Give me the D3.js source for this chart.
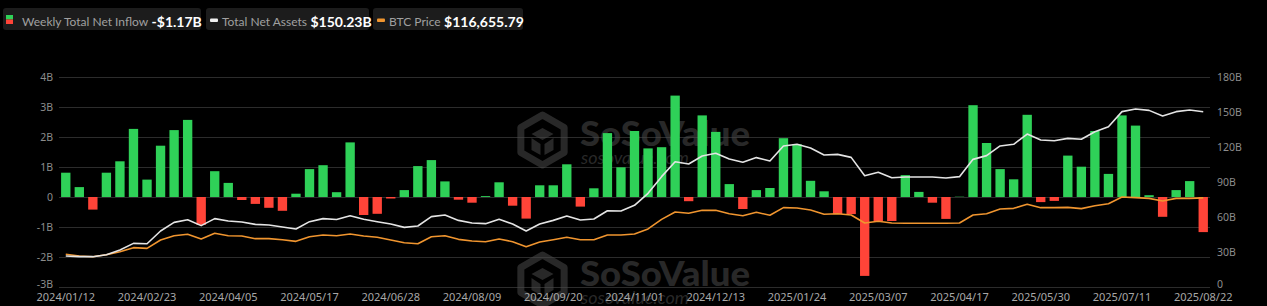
<!DOCTYPE html>
<html>
<head>
<meta charset="utf-8">
<script src="https://cdn.jsdelivr.net/npm/d3@7"></script>
<style>
  html, body { margin: 0; padding: 0; background: #000; }
  svg { display: block; }
</style>
</head>
<body>
<svg id="chart" width="1267" height="306"></svg>
<script>
const categories = [
  "2024/01/12","2024/01/19","2024/01/26","2024/02/02","2024/02/09","2024/02/16","2024/02/23","2024/03/01","2024/03/08","2024/03/15",
  "2024/03/22","2024/03/28","2024/04/05","2024/04/12","2024/04/19","2024/04/26","2024/05/03","2024/05/10","2024/05/17","2024/05/24",
  "2024/05/31","2024/06/07","2024/06/14","2024/06/21","2024/06/28","2024/07/05","2024/07/12","2024/07/19","2024/07/26","2024/08/02",
  "2024/08/09","2024/08/16","2024/08/23","2024/08/30","2024/09/06","2024/09/13","2024/09/20","2024/09/27","2024/10/04","2024/10/11",
  "2024/10/18","2024/10/25","2024/11/01","2024/11/08","2024/11/15","2024/11/22","2024/11/29","2024/12/06","2024/12/13","2024/12/20",
  "2024/12/27","2025/01/03","2025/01/10","2025/01/17","2025/01/24","2025/01/31","2025/02/07","2025/02/14","2025/02/21","2025/02/28",
  "2025/03/07","2025/03/14","2025/03/21","2025/03/28","2025/04/04","2025/04/11","2025/04/17","2025/04/25","2025/05/02","2025/05/09",
  "2025/05/16","2025/05/23","2025/05/30","2025/06/06","2025/06/13","2025/06/20","2025/06/27","2025/07/03","2025/07/11","2025/07/18",
  "2025/07/25","2025/08/01","2025/08/08","2025/08/15","2025/08/22"
];

// Weekly total net inflow, billions USD
const netInflow = [
  0.81, 0.33, -0.42, 0.81, 1.19, 2.27, 0.58, 1.71, 2.23, 2.57,
  -0.93, 0.86, 0.47, -0.10, -0.23, -0.36, -0.46, 0.11, 0.93, 1.06,
  0.16, 1.82, -0.60, -0.56, -0.05, 0.23, 1.03, 1.23, 0.52, -0.09,
  -0.19, 0.03, 0.49, -0.29, -0.72, 0.39, 0.39, 1.09, -0.32, 0.29,
  2.13, 0.99, 2.20, 1.62, 1.66, 3.38, -0.14, 2.72, 2.17, 0.43,
  -0.40, 0.23, 0.30, 1.96, 1.76, 0.54, 0.19, -0.57, -0.57, -2.63,
  -0.80, -0.80, 0.73, 0.17, -0.19, -0.73, 0.01, 3.06, 1.80, 0.93,
  0.59, 2.74, -0.17, -0.13, 1.38, 1.01, 2.20, 0.77, 2.72, 2.38,
  0.06, -0.66, 0.23, 0.53, -1.17
];

// Total net assets, billions USD
const totalNetAssets = [
  26.6, 26.0, 26.0, 27.7, 31.7, 37.4, 37.1, 48.0, 55.4, 57.7,
  52.6, 58.6, 56.6, 55.7, 53.7, 53.1, 51.4, 49.7, 56.0, 58.6,
  57.8, 61.1, 58.0, 56.0, 54.0, 51.1, 52.3, 60.3, 61.7, 57.1,
  54.9, 54.3, 58.0, 54.0, 48.0, 54.0, 57.1, 60.9, 57.4, 58.3,
  65.4, 65.1, 70.0, 80.3, 94.6, 107.4, 105.4, 112.3, 114.6, 109.7,
  106.9, 110.9, 108.0, 120.9, 122.3, 119.1, 113.1, 113.7, 111.1, 95.4,
  98.3, 93.7, 94.3, 94.3, 94.3, 93.4, 94.6, 109.4, 112.6, 120.9,
  122.3, 131.1, 126.0, 125.4, 127.4, 126.6, 133.1, 137.4, 150.3, 152.6,
  151.4, 146.6, 150.3, 151.7, 150.23
];

// BTC price, USD
const btcPrice = [
  42800, 40600, 39700, 42300, 46200, 51500, 50600, 61500, 67200, 69000,
  62900, 70300, 67200, 66800, 63300, 63300, 61900, 59800, 65900, 68100,
  67200, 69400, 66800, 65100, 61500, 58000, 56700, 65900, 67200, 62400,
  60200, 59300, 62900, 59300, 52800, 58900, 61900, 65100, 61900, 61900,
  68100, 68100, 69400, 76000, 88600, 98200, 96500, 100400, 100400, 96000,
  93400, 97800, 93900, 103900, 103500, 100800, 95200, 96000, 94300, 83800,
  86000, 83800, 83400, 83400, 83400, 83400, 83800, 94300, 96000, 102100,
  103000, 108300, 103900, 103900, 104300, 102600, 106500, 109100, 117900, 117000,
  116100, 112600, 116100, 116100, 116655.79
];

const leftTicks = [-3, -2, -1, 0, 1, 2, 3, 4];
const leftTickLabels = ["-3B", "-2B", "-1B", "0", "1B", "2B", "3B", "4B"];
const rightTicks = [0, 30, 60, 90, 120, 150, 180];
const rightTickLabels = ["0", "30B", "60B", "90B", "120B", "150B", "180B"];
const xTickLabels = ["2024/01/12","2024/02/23","2024/04/05","2024/05/17","2024/06/28","2024/08/09","2024/09/20",
  "2024/11/01","2024/12/13","2025/01/24","2025/03/07","2025/04/17","2025/05/30","2025/07/11","2025/08/22"];

const legendItems = [
  { name: "Weekly Total Net Inflow", value: "-$1.17B" },
  { name: "Total Net Assets", value: "$150.23B" },
  { name: "BTC Price", value: "$116,655.79" }
];

const GREEN = "#2fd158", RED = "#ff4438", WHITE = "#e4e4e4", ORANGE = "#f0952f";

const svg = d3.select("#chart");
svg.append("rect").attr("width", 1267).attr("height", 306).attr("fill", "#000");

const x = d3.scaleBand().domain(categories).range([59, 1210]).paddingInner(0.31).paddingOuter(0.155);
const yL = d3.scaleLinear().domain([-3, 4]).range([287, 77]);
const yR = d3.scaleLinear().domain([0, 180]).range([287, 77]);
const yP = d3.scaleLinear().domain([0, 275000]).range([287, 77]);
const cx = d => x(d) + x.bandwidth() / 2;

// gridlines
const grid = d3.axisLeft(yL).tickValues(leftTicks).tickSize(-(1210 - 59)).tickFormat("");
const gG = svg.append("g").attr("transform", "translate(59,0)").call(grid);
gG.select(".domain").remove();
gG.selectAll(".tick line").attr("stroke", "#2c2c2c").attr("stroke-width", 1);

// watermarks
function watermark(dy) {
  const g = svg.append("g").attr("transform", `translate(0,${dy})`).attr("opacity", 0.55);
  const hx = 542.5, hy = 140, r = 25;
  const hex = d3.range(6).map(i => {
    const a = Math.PI / 3 * i - Math.PI / 2;
    return [hx + r * Math.cos(a), hy + r * Math.sin(a)];
  });
  g.append("path").attr("d", d3.line().curve(d3.curveLinearClosed)(hex))
    .attr("fill", "none").attr("stroke", "#4a4a4a").attr("stroke-width", 7).attr("stroke-linejoin", "round");
  g.append("path").attr("d", `M${hx-11},${hy-6} L${hx},${hy-12} L${hx+11},${hy-6} L${hx},${hy} Z M${hx-11},${hy-2} L${hx-11},${hy+10} L${hx-2},${hy+15} L${hx-2},${hy+4} Z M${hx+2},${hy+4} L${hx+11},${hy-2} L${hx+11},${hy+10} L${hx+2},${hy+15} Z`)
    .attr("fill", "#4a4a4a");
  g.append("text").attr("x", 580).attr("y", 146).text("SoSoValue")
    .attr("font-family", "Lato, 'Open Sans', sans-serif").attr("font-weight", 900).attr("font-size", 34)
    .attr("textLength", 170).attr("lengthAdjust", "spacingAndGlyphs").attr("fill", "#4a4a4a");
  g.append("text").attr("x", 581).attr("y", 164).text("sosovalue.com")
    .attr("font-family", "Lato, 'Open Sans', sans-serif").attr("font-style", "italic").attr("font-size", 17)
    .attr("textLength", 108).attr("lengthAdjust", "spacingAndGlyphs").attr("fill", "#4a4a4a");
}
watermark(0);
watermark(140);

// bars
svg.append("g").selectAll("rect").data(categories).join("rect")
  .attr("x", d => x(d))
  .attr("width", x.bandwidth())
  .attr("y", (d, i) => Math.min(yL(netInflow[i]), yL(0)))
  .attr("height", (d, i) => Math.abs(yL(netInflow[i]) - yL(0)))
  .attr("fill", (d, i) => netInflow[i] >= 0 ? GREEN : RED);

// lines
const lineAssets = d3.line().x(d => cx(d)).y((d, i) => yR(totalNetAssets[i]));
const linePrice = d3.line().x(d => cx(d)).y((d, i) => yP(btcPrice[i]));
svg.append("path").attr("d", linePrice(categories)).attr("fill", "none").attr("stroke", ORANGE).attr("stroke-width", 1.6).attr("stroke-linejoin", "round");
svg.append("path").attr("d", lineAssets(categories)).attr("fill", "none").attr("stroke", WHITE).attr("stroke-width", 1.6).attr("stroke-linejoin", "round");

// axes
const labelFont = "'Noto Sans', 'DejaVu Sans', sans-serif";
const aL = d3.axisLeft(yL).tickValues(leftTicks).tickSize(0).tickPadding(0)
  .tickFormat(v => leftTickLabels[leftTicks.indexOf(v)]);
const gL = svg.append("g").attr("transform", "translate(53,0)").call(aL);
gL.select(".domain").remove();
gL.selectAll("text").attr("fill", "#8c8c8c").attr("font-size", 10.5).attr("font-family", labelFont);
gL.selectAll(".tick").filter(v => v === -3).select("text").attr("dy", "0.0em");

const aR = d3.axisRight(yR).tickValues(rightTicks).tickSize(0).tickPadding(0)
  .tickFormat(v => rightTickLabels[rightTicks.indexOf(v)]);
const gR = svg.append("g").attr("transform", "translate(1217,0)").call(aR);
gR.select(".domain").remove();
gR.selectAll("text").attr("fill", "#8c8c8c").attr("font-size", 10.5).attr("font-family", labelFont);
gR.selectAll(".tick").filter(v => v === 0).select("text").attr("dy", "0.0em");

const aX = d3.axisBottom(x).tickValues(xTickLabels).tickSize(0).tickPadding(0);
const gX = svg.append("g").attr("transform", "translate(0,293)").call(aX);
gX.select(".domain").remove();
gX.selectAll("text").attr("fill", "#a8a8a8").attr("font-size", 11).attr("font-family", labelFont);

// legend
const legend = svg.append("g").attr("font-family", "Lato, 'Open Sans', sans-serif");
const boxes = [[3, 201], [206, 369], [373, 523]];
legendItems.forEach((it, k) => {
  const [x0, x1] = boxes[k];
  const g = legend.append("g");
  g.append("rect").attr("x", x0).attr("y", 8).attr("width", x1 - x0).attr("height", 22).attr("rx", 3).attr("fill", "#1c1c1c");
  if (k === 0) {
    g.append("rect").attr("x", x0 + 3).attr("y", 15).attr("width", 7).attr("height", 4.5).attr("fill", GREEN);
    g.append("rect").attr("x", x0 + 3).attr("y", 19.5).attr("width", 7).attr("height", 4.5).attr("fill", RED);
  } else {
    g.append("rect").attr("x", x0 + 4).attr("y", 18.5).attr("width", 8).attr("height", 3.5).attr("rx", 1).attr("fill", k === 1 ? "#f0f0f0" : ORANGE);
  }
  const tx = x0 + (k === 0 ? 19 : 16);
  const t = g.append("text").attr("x", tx).attr("y", 20.5).attr("dominant-baseline", "central");
  t.append("tspan").text(it.name).attr("fill", "#a0a0a0").attr("font-size", 12);
  t.append("tspan").text(" " + it.value).attr("fill", "#ffffff").attr("font-size", 14).attr("font-weight", 700);
});
</script>
</body>
</html>
